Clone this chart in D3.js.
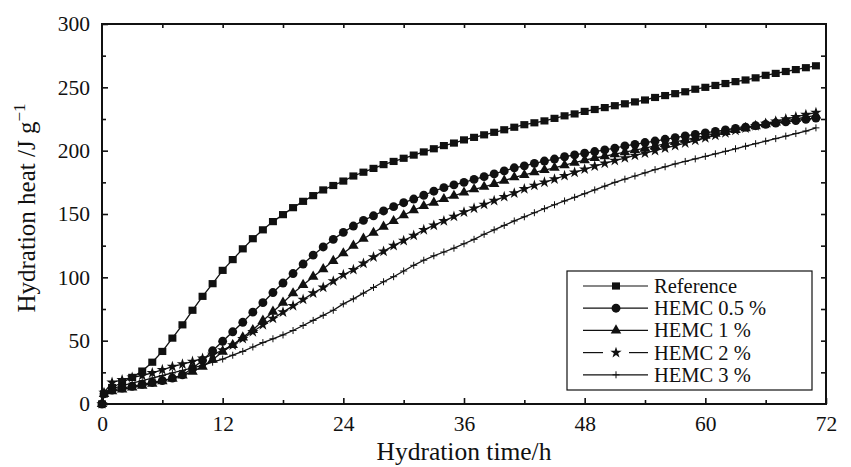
<!DOCTYPE html>
<html><head><meta charset="utf-8">
<script src="https://cdn.jsdelivr.net/npm/d3@7"></script>
</head><body style="margin:0">
<svg id="c" width="851" height="467"></svg>
<script>
const times = [0,0.2,1,2,3,4,5,6,7,8,9,10,11,12,13,14,15,16,17,18,19,20,21,22,23,24,25,26,27,28,29,30,31,32,33,34,35,36,37,38,39,40,41,42,43,44,45,46,47,48,49,50,51,52,53,54,55,56,57,58,59,60,61,62,63,64,65,66,67,68,69,70,71];
const seriesNames = ["Reference","HEMC 0.5 %","HEMC 1 %","HEMC 2 %","HEMC 3 %"];
const reference = [0,8,13,17,21,26,33,41.5,52,62.5,74,85,95,105.5,114,122.5,130.5,137.5,144,149.5,155,160,164.5,169,172.5,176,180,183,186,189,191.5,194,196.5,199,201.5,204,206,208.5,210.5,212.5,214.5,216.5,218.5,220.5,222,223.5,225.5,227.5,229,231,232.5,234,235.5,237,238.5,240,242,243.5,245,246.5,248.5,250,251.5,253,254.5,255.8,257.5,259.5,261,262.5,264,265.5,267];
const hemc05 = [0,8,11,12.5,14,15.5,17,18.5,20.5,23,28,34.5,42,49.5,57,64.5,72.5,80,88,95.5,103,110.5,117.5,124,130,135.5,140.5,145,148.6,152.4,155.8,158.9,161.8,164.8,168,170.8,173,175,177.3,179.5,181.6,184,186.5,188,190,191.8,193.4,195.2,196.6,198,199.3,200.6,202,203.7,205,206.4,207.6,209,210.3,211.6,212.8,214,215.2,216.4,217.5,218.6,219.7,220.8,221.8,222.8,223.8,224.8,225.8];
const hemc1 = [0,8,10,11.5,13,14.5,16,18,20,22.5,25.5,29.5,35,41.3,46.6,52.6,58.4,65.8,72.9,80,87.4,94,100.5,106.5,113,119,125,130.5,135.2,140,144.5,149,153,156.3,159,161.8,164.4,167,169.5,171.5,173.8,176.3,179,180.8,182.9,184.7,186.5,188.5,190.5,192.5,194.2,195.6,197.2,198.8,200.5,202,203.7,205.3,207,208.6,210.2,211.8,213.3,214.8,216.3,217.8,219.3,220.8,222.2,223.6,225,226.4,227.8];
const hemc2 = [0,9,17,19,21,22.5,24.5,27,29.5,31.5,33.5,36,39,42.5,46.5,51.5,57,62.5,67.5,72.5,77.5,82.5,87.5,92,97,102,106,111,116,120.5,125,129,133,137.5,141,144.5,148,151.5,154.5,157.5,160.5,163.6,166.5,169.8,172.5,175,177.5,180.2,182.8,185.3,187.8,190,192.2,194.2,196.2,198,200,202,204,206,208,210,212,214,216,217.8,219.6,221.4,223.2,225,226.7,228.4,230];
const hemc3 = [0,8,12,14.5,16.5,18.5,20.5,22.5,24.5,26.5,28.5,30.5,33,35.5,38.5,41.5,45,48.5,51.5,54.5,58,62,66,70,74,79,83,87.5,92,96.5,100.5,105,109.5,113.5,117,120,123,126.5,130,134,137.5,141,144.5,147.8,151,154.2,157.3,160.3,163.2,166,169,172,175,177.5,180,182.5,185,187.3,189.5,191.5,193.5,195.5,197.5,199.5,201.5,203.5,205.5,207.5,209.5,211.5,213.5,215.5,218];
const xTicks = [0,12,24,36,48,60,72];
const yTicks = [0,50,100,150,200,250,300];
const xTitle = "Hydration time/h";
const yTitle = "Hydration heat /J g";

const seriesValues = [reference, hemc05, hemc1, hemc2, hemc3];
const markerTypes = ["square","circle","triangle","star","plus"];
const FONT = "'Liberation Serif'";

const svg = d3.select("#c");
const L = 102, R = 826, T = 24, B = 404;
const x = d3.scaleLinear().domain([0,72]).range([L,R]);
const y = d3.scaleLinear().domain([0,300]).range([B,T]);
const ink = "#111";

function markerPath(type){
  if(type==="square") return "M-4,-3.6H4V3.6H-4Z";
  if(type==="circle") return d3.symbol(d3.symbolCircle,62)();
  if(type==="triangle") return d3.symbol(d3.symbolTriangle,48)();
  if(type==="star") return d3.symbol(d3.symbolStar,40)();
  return "M-3.5,0H3.5M0,-3.5V3.5";
}

const line = d3.line().x((d,i)=>x(times[i])).y(d=>y(d));
seriesValues.forEach((vals,k)=>{
  svg.append("path").attr("d",line(vals)).attr("fill","none")
    .attr("stroke",ink).attr("stroke-width",1.3);
});
seriesValues.forEach((vals,k)=>{
  const t = markerTypes[k];
  const p = markerPath(t);
  svg.append("g").selectAll("path").data(vals).join("path")
    .attr("transform",(d,i)=>`translate(${x(times[i])},${y(d)})`)
    .attr("d",p)
    .attr("fill", t==="plus" ? "none" : ink)
    .attr("stroke", t==="plus" ? ink : "none")
    .attr("stroke-width",1);
});

const gx = svg.append("g").attr("transform",`translate(0,${B})`)
  .call(d3.axisBottom(x).tickValues(xTicks).tickSize(-6).tickPadding(12).tickFormat(d3.format("d")));
const gxm = svg.append("g").attr("transform",`translate(0,${B})`)
  .call(d3.axisBottom(x).tickValues(d3.range(6,72,12)).tickSize(-4).tickFormat(""));
const gy = svg.append("g").attr("transform",`translate(${L},0)`)
  .call(d3.axisLeft(y).tickValues(yTicks).tickSize(-6).tickPadding(12));
const gym = svg.append("g").attr("transform",`translate(${L},0)`)
  .call(d3.axisLeft(y).tickValues(d3.range(25,300,50)).tickSize(-4).tickFormat(""));
const gt = svg.append("g").attr("transform",`translate(0,${T})`)
  .call(d3.axisTop(x).tickValues(d3.range(6,72,6)).tickSize(-4).tickFormat(""));
const gr = svg.append("g").attr("transform",`translate(${R},0)`)
  .call(d3.axisRight(y).tickValues(d3.range(25,300,25)).tickSize(-5).tickFormat(""));
[gx,gxm,gy,gym,gt,gr].forEach(g=>{
  g.attr("font-family",null).attr("font-size",null);
  g.select(".domain").remove();
  g.selectAll(".tick line").attr("stroke",ink).attr("stroke-width",1.6);
  g.selectAll("text").attr("fill",ink).style("font-family",FONT).attr("font-size",21.5);
});
svg.append("rect").attr("x",L).attr("y",T).attr("width",R-L).attr("height",B-T)
  .attr("fill","none").attr("stroke",ink).attr("stroke-width",2);

svg.append("text").attr("x",(L+R)/2).attr("y",460).attr("text-anchor","middle")
  .style("font-family",FONT).attr("fill",ink).attr("font-size",25.5).text(xTitle);
const yt = svg.append("text").attr("transform","translate(35,208) rotate(-90)")
  .attr("text-anchor","middle").style("font-family",FONT).attr("fill",ink).attr("font-size",25);
yt.append("tspan").text(yTitle);
yt.append("tspan").attr("font-size",17).attr("dy",-10).text("\u22121");

const lg = svg.append("g");
lg.append("rect").attr("x",567).attr("y",271).attr("width",245).attr("height",119)
  .attr("fill","#fff").attr("stroke",ink).attr("stroke-width",1.2);
seriesNames.forEach((name,k)=>{
  const cy = 286 + k*22.2;
  if(markerTypes[k]==="star"){
    lg.append("line").attr("x1",583).attr("x2",603).attr("y1",cy).attr("y2",cy).attr("stroke",ink).attr("stroke-width",1.2);
    lg.append("line").attr("x1",629).attr("x2",648).attr("y1",cy).attr("y2",cy).attr("stroke",ink).attr("stroke-width",1.2);
  } else {
    lg.append("line").attr("x1",583).attr("x2",648).attr("y1",cy).attr("y2",cy).attr("stroke",ink).attr("stroke-width",1.2);
  }
  const t = markerTypes[k];
  lg.append("path").attr("transform",`translate(616,${cy})`).attr("d",markerPath(t))
    .attr("fill", t==="plus" ? "none" : ink).attr("stroke", t==="plus" ? ink : "none");
  lg.append("text").attr("x",654).attr("y",cy+7).style("font-family",FONT).attr("font-size",20.5).attr("fill",ink).text(name);
});
</script></body></html>
